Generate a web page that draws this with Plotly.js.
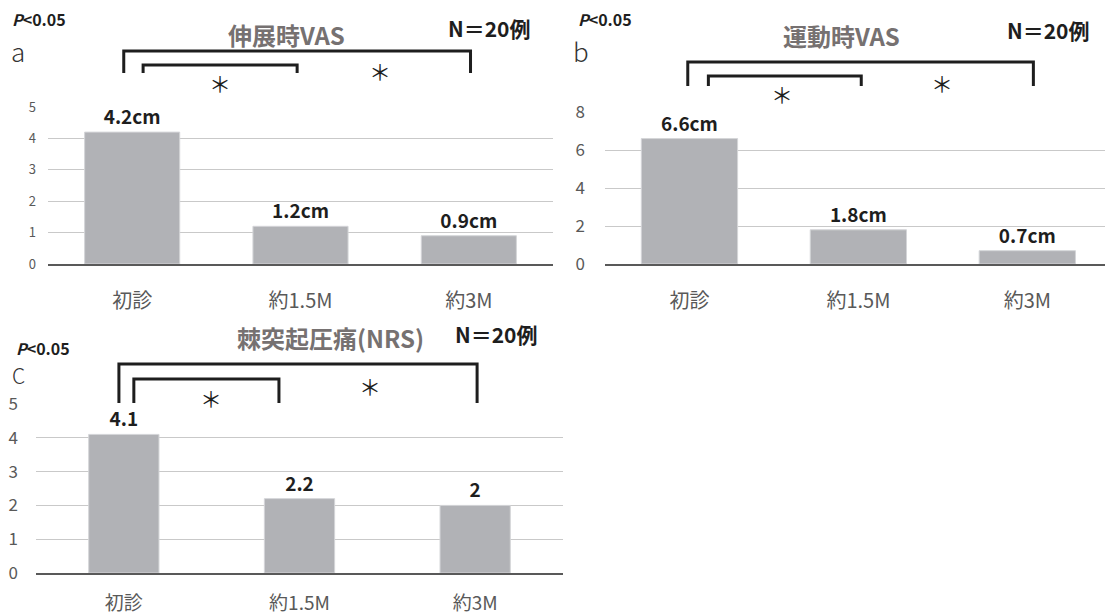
<!DOCTYPE html>
<html>
<head>
<meta charset="utf-8">
<script src="https://cdn.plot.ly/plotly-3.0.1.min.js"></script>
<style>
  html, body { margin: 0; padding: 0; background: #fff; }
  #chart { width: 1105px; height: 616px; }
</style>
</head>
<body>
<div id="chart"></div>
<script>
// Time points after first visit
const categories = ['初診', '約1.5M', '約3M'];

// a: VAS during extension (cm)
const vasExtension = [4.2, 1.2, 0.9];
// b: VAS during movement (cm)
const vasMovement = [6.6, 1.8, 0.7];
// c: spinous process tenderness (NRS)
const nrsTenderness = [4.1, 2.2, 2];

const panelTitles = ['伸展時VAS', '運動時VAS', '棘突起圧痛(NRS)'];
const panelLetters = ['a', 'b', 'C'];
const sampleText = 'N＝20例';
const pText = '<i>P</i>&lt;0.05';
const starText = '＊';

const W = 1105, H = 616;
const FONT = '"Noto Sans CJK JP", "Noto Sans", sans-serif';
const BAR = '#b1b2b6';
const GRID = '#c9c9c9';
const AXIS = '#595959';
const INK = '#1e1e1e';

const px = x => x / W;          // pixel -> paper x
const py = y => 1 - y / H;      // pixel -> paper y

// Panel geometry (pixels)
const panels = [
  { xa: 'x',  ya: 'y',  left: 48,  right: 553,  top: 107, bottom: 264, range: [-0.5, 2.5],  ymax: 5, dtick: 1,
    values: vasExtension, unit: 'cm', width: 0.565, tickSize: 13, yStand: 11, xStand: 18, catSize: 20 },
  { xa: 'x2', ya: 'y2', left: 605, right: 1105, top: 112, bottom: 264, range: [-0.5, 2.46], ymax: 8, dtick: 2,
    values: vasMovement, unit: 'cm', width: 0.57, tickSize: 17, yStand: 19, xStand: 18, catSize: 20 },
  { xa: 'x3', ya: 'y3', left: 36,  right: 563,  top: 404, bottom: 573, range: [-0.5, 2.5],  ymax: 5, dtick: 1,
    values: nrsTenderness, unit: '', width: 0.4, tickSize: 17, yStand: 17, xStand: 12, catSize: 19 }
];

// Significance brackets: category-index ends, pixel heights
const brackets = [
  [{ from: -0.05, to: 2.01, top: 51, foot: 73 }, { from: 0.065, to: 0.98, top: 65, foot: 73 }],
  [{ from: -0.01, to: 2.036, top: 62, foot: 86 }, { from: 0.112, to: 1.017, top: 76, foot: 86 }],
  [{ from: -0.028, to: 2.011, top: 364, foot: 403 }, { from: 0.057, to: 0.883, top: 379, foot: 403 }]
];

// Text placements (pixels)
const labelsPos = [
  { p: [10, 19], letter: [18, 50], title: [286, 35], n: [489, 28], stars: [[220, 82], [380, 70]] },
  { p: [576, 19], letter: [581, 50], title: [841, 36], n: [1048, 30], stars: [[782, 93], [942, 82]] },
  { p: [14, 348], letter: [18, 375], title: [330, 337], n: [496, 334], stars: [[211, 397], [370, 385]] }
];

const idxToPaper = (pn, i) => {
  const f = (i - pn.range[0]) / (pn.range[1] - pn.range[0]);
  return px(pn.left + f * (pn.right - pn.left));
};

const data = panels.map(pn => ({
  type: 'bar',
  x: categories,
  y: pn.values,
  xaxis: pn.xa,
  yaxis: pn.ya,
  width: pn.width,
  marker: { color: BAR, line: { color: '#d4d5d8', width: 1 } },
  text: pn.values.map(v => String(v) + pn.unit),
  textposition: 'outside',
  constraintext: 'none',
  cliponaxis: false,
  textfont: { family: FONT, size: 19, color: INK, weight: 'bold' },
  hoverinfo: 'skip',
  showlegend: false
}));

const layout = {
  width: W, height: H,
  margin: { l: 0, r: 0, t: 0, b: 0 },
  paper_bgcolor: '#fff',
  plot_bgcolor: '#fff',
  font: { family: FONT, color: AXIS },
  showlegend: false,
  shapes: [],
  annotations: []
};

panels.forEach((pn, k) => {
  const n = k === 0 ? '' : String(k + 1);
  layout['xaxis' + n] = {
    domain: [px(pn.left), px(pn.right)],
    anchor: 'y' + n,
    range: pn.range,
    type: 'category',
    showgrid: false,
    showline: true,
    linecolor: AXIS,
    linewidth: 2,
    ticks: '',
    ticklabelstandoff: pn.xStand,
    tickfont: { family: FONT, size: pn.catSize, color: AXIS },
    fixedrange: true
  };
  layout['yaxis' + n] = {
    domain: [py(pn.bottom), py(pn.top)],
    anchor: 'x' + n,
    range: [0, pn.ymax],
    dtick: pn.dtick,
    showgrid: true,
    gridcolor: GRID,
    gridwidth: 1,
    zeroline: false,
    showline: false,
    ticks: '',
    ticklabelstandoff: pn.yStand,
    tickfont: { family: FONT, size: pn.tickSize, color: AXIS },
    fixedrange: true
  };

  brackets[k].forEach(b => {
    const x0 = idxToPaper(pn, b.from), x1 = idxToPaper(pn, b.to);
    layout.shapes.push({
      type: 'path', xref: 'paper', yref: 'paper',
      path: `M ${x0} ${py(b.foot)} L ${x0} ${py(b.top)} L ${x1} ${py(b.top)} L ${x1} ${py(b.foot)}`,
      line: { color: INK, width: 3 }
    });
  });

  const L = labelsPos[k];
  const ann = (pos, text, font, xanchor) => layout.annotations.push({
    xref: 'paper', yref: 'paper', x: px(pos[0]), y: py(pos[1]),
    text, showarrow: false, xanchor: xanchor || 'center', yanchor: 'middle', font
  });
  ann(L.p, pText, { family: FONT, size: 16, color: INK, weight: 'bold' }, 'left');
  ann(L.letter, panelLetters[k], { family: FONT, size: k === 2 ? 21 : 26, color: '#333', weight: 300 });
  ann(L.title, panelTitles[k], { family: FONT, size: 24, color: '#767171', weight: 'bold' });
  ann(L.n, sampleText, { family: FONT, size: 21, color: INK, weight: 'bold' });
  L.stars.forEach(s => ann(s, starText, { family: FONT, size: 22, color: INK }));
});

Plotly.newPlot('chart', data, layout, { staticPlot: true });
</script>
</body>
</html>
